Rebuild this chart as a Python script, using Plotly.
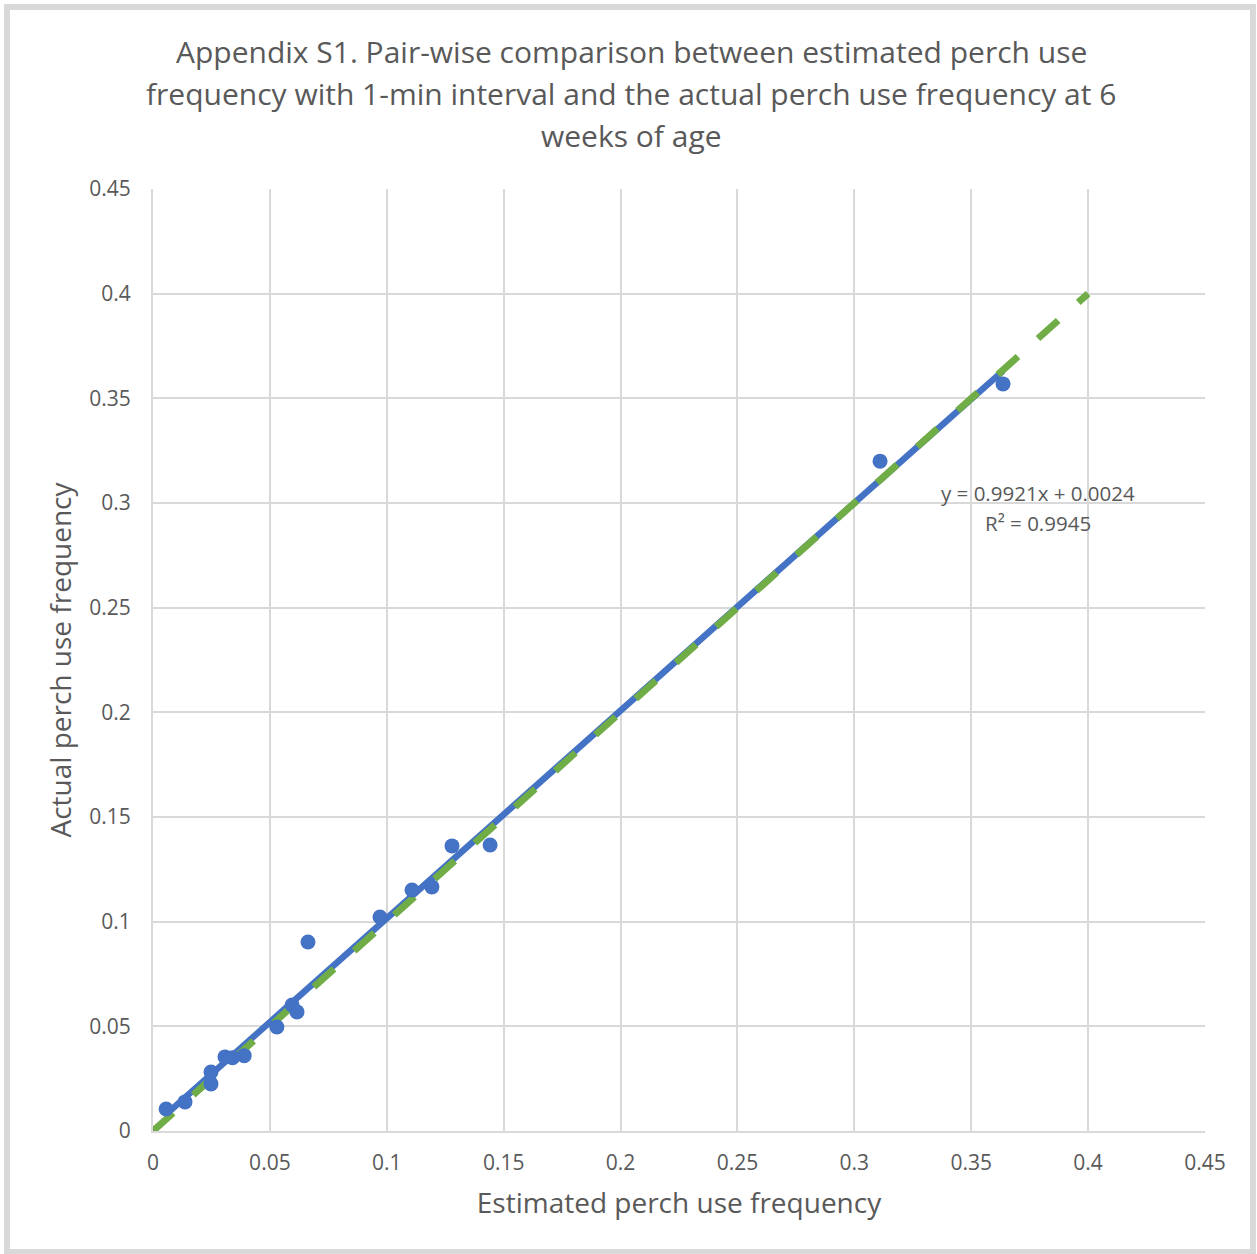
import plotly.graph_objects as go

# Data
est_freq = [0.0056, 0.0137, 0.0248, 0.0248, 0.0308, 0.0340, 0.0390, 0.0530, 0.0595,
            0.0616, 0.0663, 0.0971, 0.1108, 0.1193, 0.1279, 0.1442, 0.3110, 0.3636]
act_freq = [0.0105, 0.0139, 0.0282, 0.0225, 0.0354, 0.0350, 0.0360, 0.0497, 0.0602,
            0.0569, 0.0903, 0.1022, 0.1151, 0.1166, 0.1362, 0.1366, 0.3200, 0.3569]

slope = 0.9921
intercept = 0.0024
trend_x = [min(est_freq), max(est_freq)]
trend_y = [slope * v + intercept for v in trend_x]

ref_x = [0, 0.4]
ref_y = [0, 0.4]

tick_vals = [0, 0.05, 0.1, 0.15, 0.2, 0.25, 0.3, 0.35, 0.4, 0.45]
tick_text = ["0", "0.05", "0.1", "0.15", "0.2", "0.25", "0.3", "0.35", "0.4", "0.45"]

title_lines = ["Appendix S1. Pair-wise comparison between estimated perch use",
               "frequency with 1-min interval and the actual perch use frequency at 6",
               "weeks of age"]
equation_lines = ["y = 0.9921x + 0.0024", "R² = 0.9945"]

FONT = "Open Sans"
GREY = "#595959"
GRID = "#d9d9d9"

# plot-area geometry in pixels (for placing paper-referenced text)
L, R, T, B = 153, 52, 189, 123
W, H = 1257, 1254
PW, PH = W - L - R, H - T - B


def px_to_paper_x(px):
    return (px - L) / PW


def px_to_paper_y(py):
    return (H - B - py) / PH


fig = go.Figure()

fig.add_trace(go.Scatter(x=trend_x, y=trend_y, mode="lines",
                         line=dict(color="#4472C4", width=6.5), showlegend=False))
fig.add_trace(go.Scatter(x=ref_x, y=ref_y, mode="lines",
                         line=dict(color="#70AD47", width=7, dash="27px,27px"),
                         showlegend=False))
fig.add_trace(go.Scatter(x=est_freq, y=act_freq, mode="markers",
                         marker=dict(color="#4472C4", size=15, line=dict(width=0)),
                         showlegend=False))

fig.update_layout(
    width=W, height=H,
    margin=dict(l=L, r=R, t=T, b=B),
    paper_bgcolor="white", plot_bgcolor="white",
    font=dict(family=FONT, color=GREY),
    showlegend=False,
)

axis_common = dict(range=[0, 0.45], tickvals=tick_vals, ticktext=tick_text,
                   showgrid=True, gridcolor=GRID, gridwidth=2,
                   showline=True, linecolor=GRID, linewidth=2, mirror=False,
                   zeroline=False, ticks="",
                   tickfont=dict(family=FONT, size=21, color=GREY))

fig.update_xaxes(**axis_common, ticklabelstandoff=12,
                 title=dict(text="Estimated perch use frequency",
                            font=dict(family=FONT, size=28, color=GREY), standoff=18))
fig.update_yaxes(**axis_common, ticklabelstandoff=16,
                 title=dict(text="Actual perch use frequency",
                            font=dict(family=FONT, size=28, color=GREY), standoff=9))

# Title lines
for text, cy in zip(title_lines, [51, 93, 135]):
    fig.add_annotation(x=px_to_paper_x(631), y=px_to_paper_y(cy), xref="paper", yref="paper",
                       text=text, showarrow=False, xanchor="center", yanchor="middle",
                       font=dict(family=FONT, size=30, color=GREY))

# Trendline equation
for text, cy in zip(equation_lines, [493, 523]):
    fig.add_annotation(x=px_to_paper_x(1038), y=px_to_paper_y(cy), xref="paper", yref="paper",
                       text=text, showarrow=False, xanchor="center", yanchor="middle",
                       font=dict(family=FONT, size=20.5, color=GREY))

fig.add_shape(type="rect", xref="paper", yref="paper",
              x0=px_to_paper_x(7), x1=px_to_paper_x(1253),
              y0=px_to_paper_y(1252), y1=px_to_paper_y(7),
              line=dict(color=GRID, width=6), fillcolor="rgba(0,0,0,0)", layer="below")

fig.write_html("out.html")
